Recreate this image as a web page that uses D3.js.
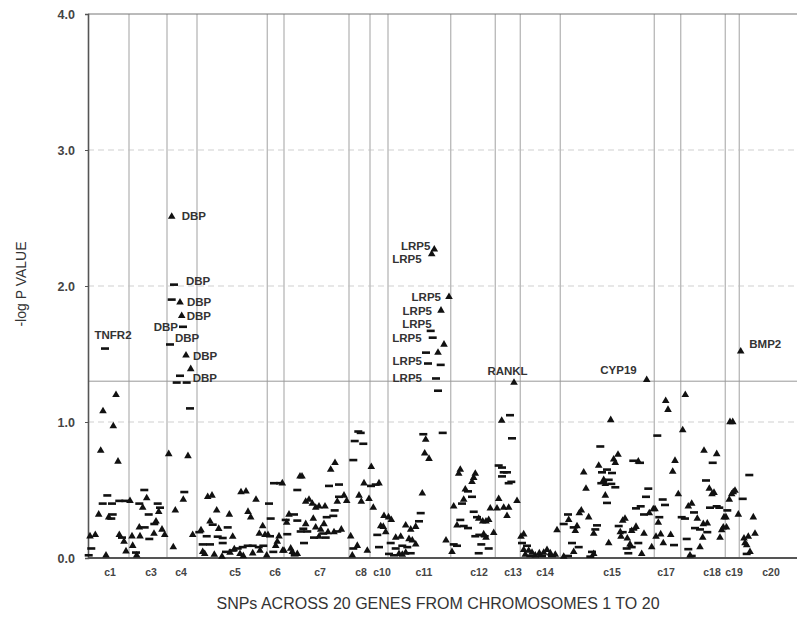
<!DOCTYPE html>
<html>
<head>
<meta charset="utf-8">
<script src="https://cdn.jsdelivr.net/npm/d3@7"></script>
<style>
  body { margin: 0; background: #fff; }
  text { font-family: "Liberation Sans", Arial, sans-serif; }
</style>
</head>
<body>
<svg id="chart"></svg>
<script>
// SNP-arvot kromosomeittain: [järjestys genomissa, -log P, merkki t=kolmio d=viiva]
const snpC1 = [[0.7,0.02,"d"],[2,0.16,"t"],[3.3,0.07,"d"],[7.3,0.17,"t"],[10.7,0.32,"t"],[12.7,0.79,"t"],[14.7,0.40,"d"],[15,1.08,"t"],[17,1.54,"d"],[18,0.02,"t"],[19.3,0.46,"d"],[20.7,0.30,"t"],[23.3,0.29,"d"],[24,0.40,"d"],[24.7,0.32,"d"],[25.3,0.97,"t"],[28,1.20,"t"],[30,0.71,"t"],[31.3,0.42,"d"],[31.3,0.17,"t"],[34,0.15,"d"],[36,0.12,"t"],[37.3,0.42,"d"],[38,0.05,"t"]];
const snpC3 = [[42,0.42,"t"],[44,0.16,"t"],[44.7,0.09,"t"],[48,0.04,"d"],[48.7,0.02,"t"],[51.3,0.40,"d"],[51.3,0.225,"t"],[52,0.16,"t"],[54.7,0.37,"t"],[56.3,0.50,"d"],[56.7,0.225,"d"],[58.7,0.44,"t"],[60.7,0.32,"d"],[61.3,0.14,"d"],[66,0.18,"t"],[66.3,0.25,"d"],[68,0.27,"t"],[69.7,0.40,"d"],[70.7,0.34,"t"],[72,0.37,"d"],[74,0.21,"t"],[76.7,0.17,"t"]];
const snpC4 = [[80.7,0.765,"t"],[82,1.57,"d"],[83.7,2.51,"t"],[83.7,1.90,"d"],[85.3,0.08,"t"],[86,2.01,"d"],[87.3,0.35,"t"],[88.7,1.29,"d"],[92,1.88,"t"],[92,1.34,"d"],[93.7,1.78,"t"],[95,1.70,"d"],[95.3,0.43,"t"],[96.3,0.485,"d"],[98,1.49,"t"],[98.7,1.29,"d"],[100,0.75,"t"],[102,1.10,"d"],[102.7,1.39,"t"],[104.7,0.17,"t"]];
const snpC5 = [[111.3,0.19,"d"],[113,0.205,"t"],[114.7,0.10,"d"],[114.7,0.045,"t"],[116.7,0.03,"t"],[118.7,0.16,"d"],[119.7,0.45,"t"],[122,0.27,"t"],[122,0.10,"d"],[124,0.46,"t"],[124.7,0.245,"d"],[126.3,0.025,"t"],[128.7,0.35,"t"],[129.7,0.157,"d"],[130.7,0.215,"t"],[134,0.01,"t"],[134.7,0.147,"d"],[134.7,0.11,"d"],[138,0.045,"d"],[139.7,0.225,"d"],[141.3,0.32,"t"],[142,0.04,"t"],[144.7,0.157,"t"],[144.7,0.055,"d"],[146.3,0.065,"t"],[149.7,0.07,"d"],[152,0.03,"t"],[153,0.485,"t"],[154.7,0.08,"d"],[155.3,0.015,"t"],[158,0.49,"t"],[159.7,0.09,"d"],[160,0.34,"t"],[162.7,0.30,"t"],[164.7,0.09,"d"],[164.7,0.035,"t"],[168,0.43,"t"],[170.7,0.08,"d"],[171.3,0.18,"t"],[172,0.055,"t"],[174.7,0.235,"t"],[175.3,0.09,"d"],[177,0.17,"t"],[178.7,0.02,"t"]];
const snpC6 = [[180,0.17,"t"],[181,0.40,"d"],[182,0.16,"d"],[182.7,0.29,"d"],[185.3,0.045,"d"],[186,0.55,"d"],[187.7,0.09,"t"],[189.3,0.12,"t"],[191,0.16,"t"],[192,0.55,"d"],[194.3,0.55,"t"],[194.7,0.055,"t"]];
const snpC7 = [[196,0.055,"t"],[197.7,0.28,"d"],[198.7,0.26,"t"],[199.3,0.175,"d"],[201,0.32,"t"],[202.7,0.07,"t"],[204.3,0.045,"t"],[206,0.32,"d"],[206.7,0.02,"d"],[209.3,0.50,"d"],[209.3,0.275,"d"],[209.3,0.03,"t"],[212,0.60,"t"],[212.7,0.195,"d"],[214,0.60,"t"],[215.3,0.215,"d"],[216,0.11,"d"],[217.7,0.415,"t"],[217.7,0.25,"t"],[219.3,0.195,"d"],[221,0.43,"t"],[224.3,0.40,"t"],[225.3,0.29,"t"],[226,0.15,"d"],[227.7,0.37,"t"],[227.7,0.225,"t"],[231,0.38,"t"],[231,0.157,"t"],[232.7,0.21,"t"],[235.3,0.18,"d"],[236,0.25,"t"],[237,0.38,"t"],[237.7,0.15,"d"],[238.7,0.30,"d"],[240,0.19,"t"],[241,0.53,"d"],[242.7,0.65,"t"],[245.3,0.31,"d"],[246,0.19,"t"],[246.7,0.35,"d"],[247,0.70,"t"],[249.3,0.415,"t"],[249.3,0.195,"d"],[251,0.54,"d"],[251,0.45,"d"],[253.3,0.21,"t"],[256,0.46,"t"],[258.7,0.42,"t"]];
const snpC8 = [[262.7,0.16,"t"],[264.3,0.02,"t"],[265.3,0.72,"d"],[265.3,0.07,"d"],[266.7,0.86,"d"],[269.3,0.09,"t"],[270.3,0.93,"d"],[271,0.46,"t"],[272.7,0.92,"d"],[273.3,0.415,"t"],[275.3,0.84,"d"],[276,0.55,"t"],[279.3,0.055,"t"],[281,0.435,"t"]];
const snpC10 = [[283,0.53,"d"],[283.3,0.67,"t"],[285.3,0.37,"t"],[287.7,0.54,"d"],[289.3,0.17,"d"],[291,0.55,"t"],[291,0.08,"d"],[292.7,0.235,"t"],[295.3,0.23,"t"],[296,0.31,"t"],[297.7,0.19,"t"]];
const snpC11 = [[300.5,0.30,"t"],[301,0.03,"d"],[302.7,0.11,"d"],[303.3,0.28,"t"],[306,0.02,"d"],[307.7,0.15,"t"],[307.7,0.07,"d"],[311,0.03,"t"],[312.7,0.157,"t"],[314.3,0.09,"d"],[314.3,0.025,"t"],[317.7,0.24,"t"],[317.7,0.04,"t"],[319.3,0.08,"d"],[321,0.14,"t"],[322.7,0.21,"t"],[322.7,0.035,"d"],[324.3,0.13,"t"],[327.7,0.23,"t"],[327.7,0.10,"t"],[331,0.27,"d"],[332.7,0.33,"d"],[334.3,0.475,"t"],[335.3,0.91,"d"],[336.7,0.77,"t"],[337.7,0.87,"t"],[338,1.51,"d"],[340,1.43,"d"],[341,0.73,"t"],[342.7,1.67,"d"],[343.7,2.235,"t"],[344.7,1.62,"d"],[346.3,2.27,"t"],[348,1.32,"d"],[350,1.51,"t"],[350,1.23,"d"],[352.7,1.42,"d"],[353,1.82,"t"],[354.7,0.92,"d"],[356,1.57,"t"],[358,0.13,"t"],[361,1.92,"t"]];
const snpC12 = [[364,0.045,"t"],[365.7,0.38,"t"],[365.7,0.10,"d"],[369,0.24,"t"],[369,0.09,"d"],[370.7,0.62,"t"],[372.3,0.65,"t"],[372.3,0.28,"d"],[374,0.40,"d"],[375.7,0.43,"t"],[375.7,0.235,"d"],[377.3,0.505,"t"],[380,0.49,"d"],[380,0.22,"d"],[384,0.56,"t"],[384,0.45,"d"],[385.7,0.59,"t"],[385.7,0.34,"d"],[387.3,0.62,"t"],[387.3,0.16,"d"],[389,0.30,"d"],[390.7,0.29,"t"],[390.7,0.035,"d"],[391.3,0.17,"d"],[393.3,0.10,"d"],[394.7,0.27,"t"],[395.7,0.175,"t"],[396.7,0.16,"d"],[398,0.27,"t"],[398,0.15,"t"],[400.7,0.28,"t"],[400.7,0.07,"d"],[402.3,0.365,"t"],[405.7,0.185,"t"]];
const snpC13 = [[409,0.365,"t"],[410.7,0.68,"d"],[410.7,0.435,"t"],[413.7,1.01,"t"],[414,0.665,"d"],[414,0.60,"d"],[415.7,0.63,"d"],[415.7,0.37,"t"],[419,0.63,"d"],[419,0.31,"t"],[420.7,0.55,"d"],[420.7,0.37,"t"],[422,1.05,"d"],[423.3,0.56,"d"],[424,0.88,"d"],[426,1.29,"t"],[429,0.42,"t"]];
const snpC14 = [[433,0.157,"t"],[434,0.11,"d"],[435.7,0.175,"t"],[435.7,0.06,"t"],[437.3,0.025,"t"],[439,0.09,"d"],[440.7,0.055,"t"],[442.3,0.015,"d"],[444,0.04,"t"],[447.3,0.02,"t"],[451.3,0.035,"t"],[454,0.015,"d"],[455.7,0.04,"t"],[459,0.06,"t"],[462.3,0.035,"t"],[464,0.015,"d"],[467.3,0.025,"t"],[469,0.205,"t"]];
const snpC15 = [[475.7,0.25,"d"],[475.7,0.01,"t"],[480,0.32,"d"],[480,0.015,"d"],[480.7,0.28,"t"],[484,0.11,"d"],[485.7,0.225,"d"],[485.7,0.045,"t"],[487.3,0.20,"t"],[489,0.235,"t"],[490.7,0.08,"d"],[491.3,0.33,"t"],[493.3,0.35,"t"],[495.7,0.63,"t"],[498,0.51,"t"],[500.7,0.30,"t"],[502.3,0.01,"d"],[504,0.045,"d"],[505.7,0.18,"t"],[505.7,0.03,"t"],[507.3,0.21,"d"],[509,0.24,"d"],[510.7,0.68,"t"],[512.3,0.82,"d"],[513.3,0.55,"d"],[514,0.63,"d"],[515.7,0.575,"t"],[517.3,0.545,"t"],[517.3,0.46,"t"],[519,0.65,"d"],[519,0.405,"d"],[520.7,0.575,"d"],[520.7,0.11,"t"],[522.7,1.015,"t"],[523.3,0.545,"d"],[524,0.625,"d"],[525.7,0.725,"t"],[527.3,0.70,"t"],[527.3,0.52,"d"],[530,0.76,"t"],[530.7,0.235,"d"],[532.3,0.19,"t"],[533,0.157,"t"],[534.7,0.275,"t"],[534.7,0.19,"d"],[537,0.29,"t"],[538.7,0.07,"d"],[539.3,0.145,"t"],[540.3,0.035,"d"],[542,0.10,"t"],[543.7,0.20,"t"],[543.7,0.08,"d"],[545.3,0.715,"d"],[545.3,0.21,"d"],[548,0.365,"d"],[548,0.23,"t"],[550.3,0.71,"t"],[550.3,0.11,"d"],[552,0.70,"d"],[552.7,0.38,"d"],[553.7,0.03,"t"],[556,0.32,"d"],[556,0.18,"t"],[558,0.45,"d"],[558.7,1.31,"t"],[560.3,0.51,"d"],[561.3,0.33,"t"],[563.7,0.08,"t"],[565.3,0.36,"t"]];
const snpC17 = [[567,0.36,"t"],[568,0.157,"t"],[569.3,0.90,"d"],[570.3,0.26,"t"],[571.3,0.30,"d"],[572.7,0.175,"t"],[574.7,0.43,"d"],[575.3,0.11,"t"],[577,0.39,"d"],[577.7,1.155,"t"],[580,1.09,"t"],[582.7,0.17,"t"],[584.7,0.635,"t"],[586,0.095,"d"],[587,0.715,"t"],[590.3,0.47,"t"]];
const snpC18 = [[593.7,0.30,"d"],[594.7,0.94,"t"],[597,0.29,"d"],[597.3,1.20,"t"],[598.7,0.14,"d"],[600.3,0.38,"t"],[600.3,0.065,"d"],[602,0.02,"t"],[603.7,0.40,"t"],[603.7,0.015,"d"],[606,0.335,"d"],[607,0.22,"d"],[609.3,0.29,"t"],[612,0.21,"d"],[612,0.08,"t"],[614.7,0.15,"t"],[615.3,0.25,"t"],[616,0.79,"t"],[618,0.57,"d"],[619.3,0.255,"t"],[619.3,0.19,"d"],[621.3,0.51,"t"],[622,0.37,"d"],[624,0.47,"t"],[624.7,0.70,"d"],[626,0.48,"t"],[628.7,0.765,"t"],[628.7,0.38,"d"],[631.3,0.37,"d"],[632,0.15,"t"],[633.7,0.205,"t"],[635.3,0.225,"t"],[636,0.30,"t"]];
const snpC19 = [[638,0.30,"t"],[638.5,0.225,"t"],[639.3,0.35,"d"],[641.3,0.43,"t"],[642,1.00,"t"],[643.7,0.47,"t"],[644.7,1.00,"t"],[645.3,0.485,"t"],[647,0.495,"t"],[650.3,0.32,"t"]];
const snpC20 = [[652.7,1.52,"t"],[654.7,0.435,"d"],[656,0.145,"t"],[657,0.11,"t"],[658.7,0.095,"t"],[658.7,0.03,"d"],[660.3,0.157,"t"],[661.3,0.61,"d"],[662,0.045,"t"],[665.3,0.30,"t"],[667,0.18,"t"]];

// Kromosomien nimet, rajat ja nimien paikat samassa järjestysasteikossa
const chromNames = ["c1","c3","c4","c5","c6","c7","c8","c10","c11","c12","c13","c14","c15","c17","c18","c19","c20"];
const chromLabelPos = [22, 63, 93, 147, 187, 232, 273, 294, 336, 391, 425, 457, 524, 578, 624, 646, 683];
const chromBounds = [41, 79, 109, 179.3, 196, 261, 282, 300, 362.7, 407.3, 432.3, 472.3, 566.3, 592.7, 637.3, 651.3];

const yTicks = [0, 1, 2, 3, 4];
const gridValues = [1, 2, 3];
const threshold = 1.3;

// Geeninimet ja niiden SNP:t
const annotText = ["TNFR2","DBP","DBP","DBP","DBP","DBP","DBP","DBP","DBP","LRP5","LRP5","LRP5","LRP5","LRP5","LRP5","LRP5","LRP5","RANKL","CYP19","BMP2"];
const annotPos = [17, 83.7, 86, 92, 93.7, 95, 82, 98, 98.7, 346.3, 343.7, 361, 353, 342.7, 344.7, 340, 348, 426, 558.7, 652.7];
const annotVal = [1.54, 2.51, 2.01, 1.88, 1.78, 1.70, 1.57, 1.49, 1.29, 2.27, 2.235, 1.92, 1.82, 1.67, 1.62, 1.43, 1.32, 1.29, 1.31, 1.52];

const allSnps = [snpC1, snpC3, snpC4, snpC5, snpC6, snpC7, snpC8, snpC10, snpC11, snpC12,
    snpC13, snpC14, snpC15, snpC17, snpC18, snpC19, snpC20].flat();

const svg = d3.select("#chart")
    .attr("width", 804)
    .attr("height", 618);

const margin = { top: 14, right: 7, bottom: 60, left: 88 };
const width = 804 - margin.left - margin.right;
const height = 618 - margin.top - margin.bottom;

const g = svg.append("g")
    .attr("transform", `translate(${margin.left}, ${margin.top})`);

const x = d3.scaleLinear().domain([0, 709]).range([0, width]);
const y = d3.scaleLinear().domain([0, 4]).range([height, 0]);

// katkoviivat
g.selectAll(".grid")
    .data(gridValues)
    .enter().append("line")
    .attr("x1", 0).attr("x2", width)
    .attr("y1", d => y(d)).attr("y2", d => y(d))
    .attr("stroke", "#cfcfcf")
    .attr("stroke-dasharray", "6,4");

// kromosomirajat
g.selectAll(".sep")
    .data(chromBounds)
    .enter().append("line")
    .attr("x1", d => x(d)).attr("x2", d => x(d))
    .attr("y1", 0).attr("y2", height)
    .attr("stroke", "#bcbcbc")
    .attr("stroke-width", 1.4);

// merkitsevyysraja
g.append("line")
    .attr("x1", 0).attr("x2", width)
    .attr("y1", y(threshold)).attr("y2", y(threshold))
    .attr("stroke", "#999");

// yläreuna
g.append("line")
    .attr("x1", 0).attr("x2", width)
    .attr("y1", 0).attr("y2", 0)
    .attr("stroke", "#777");

const yAxis = d3.axisLeft(y)
    .tickValues(yTicks)
    .tickFormat(d3.format(".1f"))
    .tickSize(3)
    .tickPadding(10);

const yAxisGroup = g.append("g").call(yAxis);
yAxisGroup.select(".domain").attr("stroke", "#555").attr("stroke-width", 1.6);
yAxisGroup.selectAll(".tick line").attr("stroke", "#555");
yAxisGroup.selectAll("text")
    .attr("fill", "#444")
    .style("font-size", "12.5px")
    .style("font-weight", "bold");

// x-akselin viiva
g.append("line")
    .attr("x1", 0).attr("x2", width)
    .attr("y1", height).attr("y2", height)
    .attr("stroke", "#555")
    .attr("stroke-width", 2.2);

// kolmiot ja viivat
const tri = d3.symbol().type(d3.symbolTriangle).size(25);

g.selectAll(".tri")
    .data(allSnps.filter(d => d[2] === "t"))
    .enter().append("path")
    .attr("d", tri)
    .attr("transform", d => `translate(${x(d[0])}, ${y(d[1])})`)
    .attr("fill", "#111");

g.selectAll(".dash")
    .data(allSnps.filter(d => d[2] === "d"))
    .enter().append("rect")
    .attr("x", d => x(d[0]) - 4)
    .attr("y", d => y(d[1]) - 1.3)
    .attr("width", 8)
    .attr("height", 2.6)
    .attr("fill", "#111");

// geeninimien sijoittelu (dx, dy, ankkuri)
const annotLayout = [
    [8, -14, "middle"],
    [10, -1, "start"], [12, -4, "start"], [7, 0, "start"], [5, 0, "start"],
    [-5, 0, "end"], [5, -7, "start"], [7, 0, "start"], [6, -5, "start"],
    [-4, -3, "end"], [-10, 5, "end"], [-8, 0, "end"], [-9, 0, "end"],
    [1, -7, "end"], [-11, 0, "end"], [-6, -3, "end"], [-14, -1, "end"],
    [-6.5, -12, "middle"], [-10, -10, "end"], [8.6, -7, "start"]
];

g.selectAll(".annot")
    .data(annotText)
    .enter().append("text")
    .attr("x", (d, i) => x(annotPos[i]) + annotLayout[i][0])
    .attr("y", (d, i) => y(annotVal[i]) + annotLayout[i][1])
    .attr("dy", "0.36em")
    .attr("text-anchor", (d, i) => annotLayout[i][2])
    .attr("fill", "#333")
    .style("font-size", "11.5px")
    .style("font-weight", "bold")
    .text(d => d);

// kromosomien nimet
g.selectAll(".chrom")
    .data(chromNames)
    .enter().append("text")
    .attr("x", (d, i) => x(chromLabelPos[i]))
    .attr("y", height + 18)
    .attr("text-anchor", "middle")
    .attr("fill", "#444")
    .style("font-size", "10.5px")
    .style("font-weight", "bold")
    .text(d => d);

// akselien otsikot
svg.append("text")
    .attr("transform", "translate(26, 284) rotate(-90)")
    .attr("text-anchor", "middle")
    .attr("fill", "#333")
    .style("font-size", "14px")
    .text("-log P VALUE");

svg.append("text")
    .attr("x", 438)
    .attr("y", 609)
    .attr("text-anchor", "middle")
    .attr("fill", "#333")
    .style("font-family", "'Liberation Sans Narrow', 'Arial Narrow', sans-serif")
    .style("font-size", "16px")
    .text("SNPs ACROSS 20 GENES FROM CHROMOSOMES 1 TO 20");
</script>
</body>
</html>
